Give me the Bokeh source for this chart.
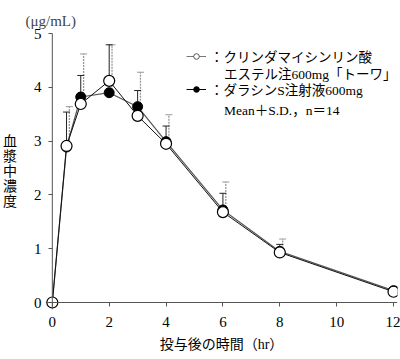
from bokeh.plotting import figure
from bokeh.models import (ColumnDataSource, Whisker, TeeHead, Label, Legend,
                          LegendItem, FixedTicker, Span)
from bokeh.transform import dodge
from bokeh.embed import file_html
from bokeh.resources import INLINE

# ---- data ----
time_hr = [0, 0.5, 1, 2, 3, 4, 6, 8, 12]
clinda_mean = [0, 2.91, 3.69, 4.12, 3.47, 2.95, 1.68, 0.93, 0.20]
clinda_sd = [0, 0.63, 0.53, 0.67, 0.47, 0.33, 0.35, 0.15, 0.08]
dalacin_mean = [0, 2.89, 3.82, 3.90, 3.64, 2.99, 1.72, 0.95, 0.22]
dalacin_sd = [0, 0.75, 0.80, 0.89, 0.64, 0.50, 0.52, 0.23, 0.08]
x_ticks = [0, 2, 4, 6, 8, 10, 12]
y_ticks = [0, 1, 2, 3, 4, 5]

legend_clinda = "：クリンダマイシンリン酸"
legend_clinda2 = "エステル注600mg「トーワ」"
legend_dalacin = "：ダラシンS注射液600mg"
legend_note = "Mean＋S.D.，n＝14"
x_title = "投与後の時間（hr）"
y_title = "血\n漿\n中\n濃\n度"
unit_text = "(μg/mL)"

FONT = "'Liberation Serif', 'Noto Sans CJK JP'"
SERIF = "Liberation Serif"
AXC = "#555555"

# ---- geometry (page pixels) ----
W, H = 400, 359
L, R, T, B = 38, 3, 33, 50
XR = (-0.24, 12.14)
YR = (-0.13, 5.0)
FW = W - L - R
FH = H - T - B


def dx(px):
    return XR[0] + (px - L) * (XR[1] - XR[0]) / FW


def dy(py):
    return YR[0] + (H - B - py) * (YR[1] - YR[0]) / FH


p = figure(width=W, height=H, x_range=XR, y_range=YR,
           output_backend="svg", toolbar_location=None,
           min_border_left=L, min_border_right=R,
           min_border_top=T, min_border_bottom=B)
p.outline_line_color = None
p.grid.visible = False
p.background_fill_color = "white"
p.border_fill_color = "white"

# unit label as title
p.title.text = unit_text
p.title.align = "left"
p.title.offset = -20
p.title.text_font = SERIF
p.title.text_font_size = "15px"
p.title.text_font_style = "normal"
p.title.standoff = 10

for ax in (p.xaxis, p.yaxis):
    ax.axis_line_color = None
    ax.major_tick_line_color = AXC
    ax.major_tick_out = -3
    ax.major_tick_in = 7
    ax.minor_tick_line_color = None
    ax.major_label_text_font = SERIF
    ax.major_label_text_font_size = "15px"
    ax.major_label_text_color = "black"
    ax.axis_label_text_font = FONT
    ax.axis_label_text_font_size = "14px"
    ax.axis_label_text_font_style = "normal"
    ax.axis_label_text_color = "black"

p.xaxis.ticker = FixedTicker(ticks=x_ticks)
p.yaxis.ticker = FixedTicker(ticks=y_ticks)
p.xaxis.major_label_standoff = 7
p.yaxis.major_label_standoff = 4
p.xaxis.axis_label = x_title
p.xaxis.axis_label_standoff = 7
p.yaxis.axis_label = y_title
p.yaxis.axis_label_orientation = "horizontal"
p.yaxis.axis_label_text_line_height = 1.0
p.yaxis.axis_label_standoff = 14

# axis lines through the origin
p.add_layout(Span(location=0, dimension="height", line_color=AXC, line_width=1))
p.add_layout(Span(location=0, dimension="width", line_color=AXC, line_width=1))

src = ColumnDataSource(dict(
    t=time_hr,
    cm=clinda_mean,
    cu=[m + s for m, s in zip(clinda_mean, clinda_sd)],
    dm=dalacin_mean,
    du=[m + s for m, s in zip(dalacin_mean, dalacin_sd)],
))

w_d = Whisker(source=src, base=dodge("t", 0.1, range=p.x_range),
              lower="dm", upper="du", lower_head=None,
              upper_head=TeeHead(size=7, line_color="#999999", line_width=1),
              line_color="#999999", line_width=1.3, line_dash="2 1",
              level="underlay")
w_c = Whisker(source=src, base="t", lower="cm", upper="cu", lower_head=None,
              upper_head=TeeHead(size=7, line_color="#222222", line_width=1),
              line_color="#222222", line_width=1, level="underlay")
p.add_layout(w_d)
p.add_layout(w_c)

# series lines and markers
p.line("t", "dm", source=src, line_color="#555555", line_width=1.2)
p.line("t", "cm", source=src, line_color="#111111", line_width=1)
p.scatter("t", "dm", source=src, marker="circle", size=10,
          fill_color="black", line_color="black", line_width=1)
p.scatter("t", "cm", source=src, marker="circle", size=11,
          fill_color="white", line_color="black", line_width=1.2)

# legend (renderers with no visible data, used only for legend glyphs)
nan = float("nan")
empty = ColumnDataSource(dict(x=[nan], y=[nan]))
lg_c_line = p.line("x", "y", source=empty, line_color="#777777", line_width=1)
lg_c_pt = p.scatter("x", "y", source=empty, marker="circle", size=7,
                    fill_color="white", line_color="#555555", line_width=1)
lg_d_line = p.line("x", "y", source=empty, line_color="black", line_width=1)
lg_d_pt = p.scatter("x", "y", source=empty, marker="circle", size=7,
                    fill_color="black", line_color="black", line_width=1)

legend = Legend(items=[
    LegendItem(label=legend_clinda, renderers=[lg_c_line, lg_c_pt]),
    LegendItem(label=legend_dalacin, renderers=[lg_d_line, lg_d_pt]),
], location=(141, 210))
legend.border_line_color = None
legend.background_fill_alpha = 0
legend.padding = 0
legend.margin = 0
legend.glyph_width = 20
legend.glyph_height = 14
legend.label_height = 14
legend.label_standoff = 4
legend.spacing = 13
legend.label_text_font = FONT
legend.label_text_font_size = "13.5px"
legend.label_text_color = "black"
p.add_layout(legend)


def add_label(text, px, py, align="left", size="13.5px"):
    p.add_layout(Label(x=dx(px), y=dy(py), text=text, text_font=FONT,
                       text_font_size=size, text_align=align,
                       text_baseline="middle", text_color="black"))


add_label(legend_clinda2, 220, 74)
add_label(legend_note, 220, 110)

open("out.html", "w").write(file_html(p, INLINE))
